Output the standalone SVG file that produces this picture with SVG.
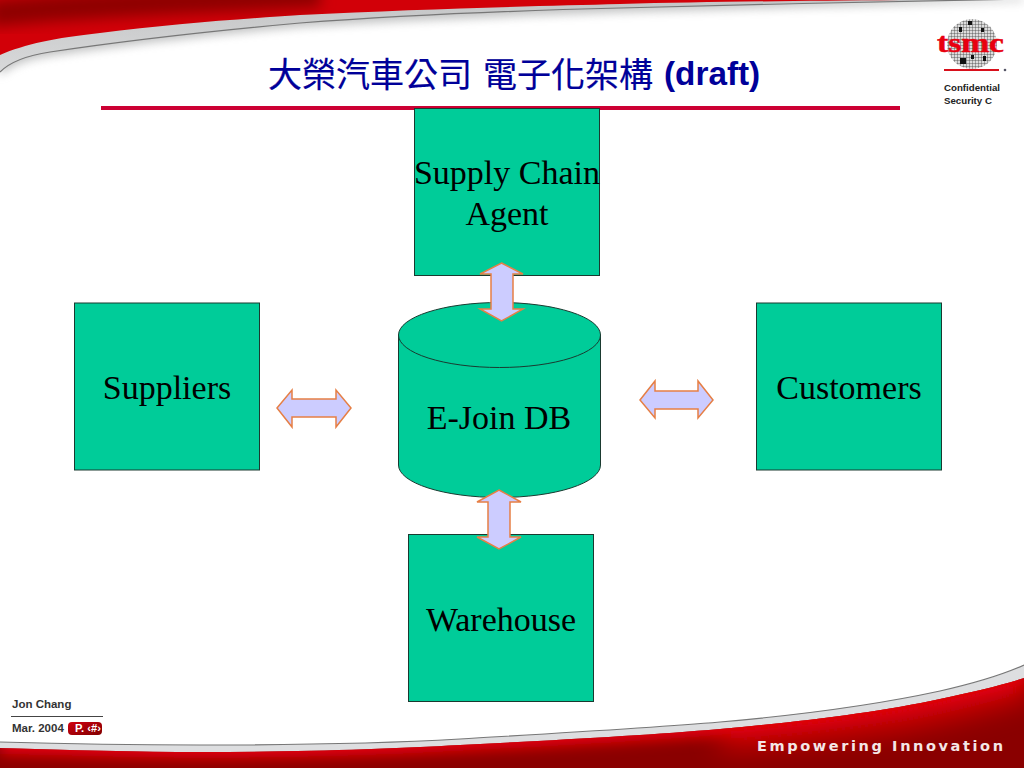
<svg xmlns="http://www.w3.org/2000/svg" width="1024" height="768" viewBox="0 0 1024 768">
<style>
.box{fill:#00CC99;stroke:#1a3a30;stroke-width:1}
.lbl{font-family:"Liberation Serif",serif;font-size:34px;fill:#000;text-anchor:middle}
.arr{fill:#CCCCFF;stroke:#E67F45;stroke-width:1.5;stroke-linejoin:miter}
.foot{font-family:"Liberation Sans",sans-serif;font-size:11.5px;font-weight:bold;fill:#333}
.conf{font-family:"Liberation Sans",sans-serif;font-size:9.7px;font-weight:bold;fill:#222}
.ttl{font-family:"Noto Sans CJK TC","Noto Sans CJK SC",sans-serif;font-size:34px;fill:#000099;stroke:#000099;stroke-width:0.2}
</style>
<defs>
<linearGradient id="pill" x1="0" y1="0" x2="1" y2="1"><stop offset="0" stop-color="#D00010"/><stop offset="1" stop-color="#800000"/></linearGradient>
<linearGradient id="topGray" x1="0" y1="0" x2="0" y2="1"><stop offset="0" stop-color="#C4C5C6"/><stop offset="1" stop-color="#D8D9DA"/></linearGradient>
<filter id="soft" x="-5%" y="-100%" width="110%" height="300%"><feGaussianBlur stdDeviation="5"/></filter>
<filter id="glow" x="-5%" y="-100%" width="110%" height="300%"><feGaussianBlur stdDeviation="7"/></filter>
<filter id="glow2" x="-10%" y="-100%" width="120%" height="300%"><feGaussianBlur stdDeviation="14"/></filter>
<clipPath id="botClip"><path d="M0 748C70 750 140 752 200 752C300 752 390 749 460 745C560 740 650 735 720 729C800 722 880 712 940 699C975 691 1000 686 1024 678V768H0Z"/></clipPath>
<clipPath id="topClip"><path d="M0 55C25 44 55 38 100 33C170 24 240 19 300 15C420 9 540 6 620 4C700 2 780 1 900 0V-2H0Z"/></clipPath>
<pattern id="grid" width="3" height="3" patternUnits="userSpaceOnUse"><rect width="3" height="3" fill="#ddd"/><path d="M0 0H3M0 0V3" stroke="#444" stroke-width="0.8"/></pattern>
</defs>

<g id="banner-top">
<path d="M0 76C12 64 30 59 50 56C110 47 200 36 300 27C500 14 750 9 1024 1V-2H0Z" fill="#8f9192" opacity="0.55" filter="url(#soft)"/>
<path d="M0 72C12 60 30 55 50 52C110 43 200 32 300 23C420 14 540 10 620 8C760 4 880 2 1024 -1V-2H0Z" fill="url(#topGray)"/>
<g clip-path="url(#topClip)">
<rect x="0" y="-2" width="1024" height="60" fill="#D20008"/>
<path d="M-10 14C60 6 160 2 320 -6" fill="none" stroke="#8E0000" stroke-width="26" filter="url(#glow)"/>
</g>
<path d="M0 72C12 60 30 55 50 52C110 43 200 32 300 23C420 14 540 10 620 8C760 4 880 2 1024 -1" fill="none" stroke="#777" stroke-width="1.2"/>
</g>

<g id="banner-bottom">
<path d="M0 742C70 744 140 745 200 745C300 745 390 743 460 739C560 733 650 728 720 722C800 715 880 704 940 691C975 683 1000 676 1024 665V768H0Z" fill="#DDDEE0"/>
<g clip-path="url(#botClip)">
<rect x="0" y="660" width="1024" height="108" fill="#8A0000"/>
<path d="M0 742C70 744 140 746 200 746C300 746 390 743 460 739C560 734 650 729 720 723C800 716 880 706 940 693C975 685 1000 680 1024 672" fill="none" stroke="#E80008" stroke-width="24" filter="url(#glow)"/>
<path d="M720 736C800 730 880 722 940 708C975 700 1000 694 1030 684" fill="none" stroke="#E80008" stroke-width="20" filter="url(#glow2)"/>
</g>
<path d="M0 742C70 744 140 745 200 745C300 745 390 743 460 739C560 733 650 728 720 722C800 715 880 704 940 691C975 683 1000 676 1024 665" fill="none" stroke="#777" stroke-width="1.2"/>
<text x="757" y="751" font-family="'DejaVu Sans',sans-serif" font-size="14.500" font-weight="bold" fill="#F4E6E6" textLength="246" lengthAdjust="spacing">Empowering Innovation</text>
</g>

<g id="title">
<rect x="101" y="106" width="799" height="4" fill="#CC0033"/>
<text class="ttl" x="268" y="87">大榮汽車公司</text>
<text class="ttl" x="483" y="87">電子化架構</text>
<text x="664" y="85" font-size="33.300" font-family="'Liberation Sans',sans-serif" font-weight="bold" fill="#000099">(draft)</text>
</g>

<g id="logo">
<circle cx="972" cy="44" r="25" fill="url(#grid)"/>
<g fill="#111"><rect x="968" y="21" width="4" height="4"/><rect x="959" y="27" width="3" height="5"/><rect x="981" y="28" width="3" height="4"/><rect x="960" y="58" width="6" height="6"/><rect x="971" y="55" width="3" height="4"/><rect x="983" y="56" width="3" height="5"/></g>
<text x="970.500" y="52" text-anchor="middle" font-family="'Liberation Serif',serif" font-weight="bold" font-size="28" fill="#E8000F" stroke="#E8000F" stroke-width="0.5" textLength="67" lengthAdjust="spacingAndGlyphs">tsmc</text>
<rect x="944" y="69" width="55" height="2" fill="#D8101C"/>
<circle cx="1005" cy="70" r="1.300" fill="#556"/>
<text class="conf" x="944" y="91">Confidential</text>
<text class="conf" x="944" y="104">Security C</text>
</g>

<g id="connectors">
<path class="arr" d="M277 408L292 390V399H336V390L351 408L336 427V417H292V427Z"/>
<path class="arr" d="M640 400L655 381V391H698V381L713 400L698 418V409H655V418Z"/>
</g>

<g id="node-supply-chain">
<rect class="box" x="414.500" y="108.500" width="185" height="167"/>
<text class="lbl" x="507" y="184">Supply Chain</text>
<text class="lbl" x="507" y="225">Agent</text>
</g>
<g id="node-suppliers">
<rect class="box" x="74.500" y="303" width="185" height="167"/>
<text class="lbl" x="167" y="399">Suppliers</text>
</g>
<g id="node-customers">
<rect class="box" x="756.500" y="303" width="185" height="167"/>
<text class="lbl" x="849" y="399">Customers</text>
</g>
<g id="node-warehouse">
<rect class="box" x="408.500" y="534.500" width="185" height="167"/>
<text class="lbl" x="501" y="631">Warehouse</text>
</g>
<g id="node-ejoin-db">
<path class="box" d="M398.500 335V465A101 32.500 0 0 0 600.500 465V335Z"/>
<ellipse class="box" cx="499.500" cy="335" rx="101" ry="32.500"/>
<text class="lbl" x="499" y="429">E-Join DB</text>
</g>

<g id="connectors-vertical">
<path class="arr" d="M501.500 263L523 274H513V309H523L501.500 321L480 309H491V274H480Z"/>
<path class="arr" d="M499 490L521 502H510V537H521L499 549L477 537H488V502H477Z"/>
</g>

<g id="footer">
<text class="foot" x="12" y="708">Jon Chang</text>
<rect x="11" y="716" width="92" height="1" fill="#444"/>
<text class="foot" x="12" y="732">Mar. 2004</text>
<rect x="68" y="722" width="34" height="13" rx="4" fill="url(#pill)"/>
<text x="75" y="732" font-family="'Liberation Sans',sans-serif" font-size="11.200" font-weight="bold" fill="#fff">P. ‹#›</text>
</g>
</svg>
